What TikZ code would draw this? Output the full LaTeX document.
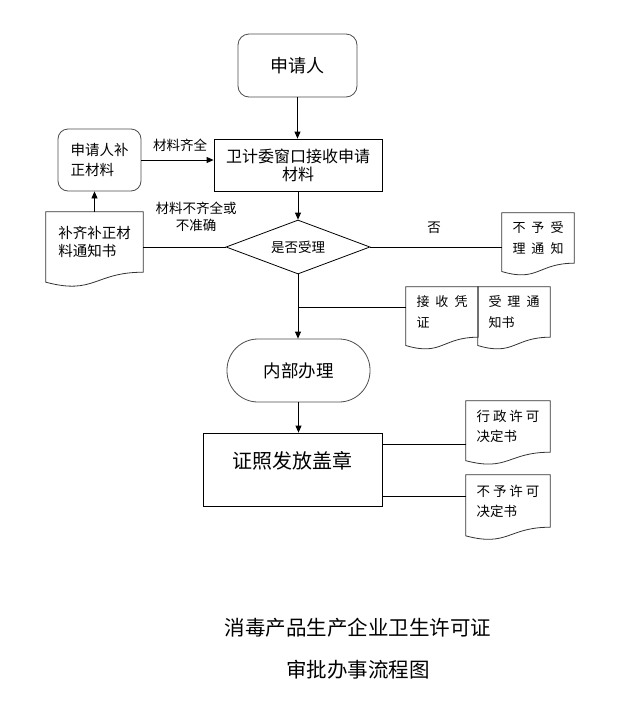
\documentclass[tikz,border=0pt]{standalone}
\usepackage{fontspec}
\setmainfont{Noto Sans CJK SC}
\usetikzlibrary{arrows.meta,shapes.geometric,calc}
\newcommand{\dgap}{\hspace{6pt}}
\newcommand{\sgap}{\hspace{3pt}}
% paper sheet with a wavy lower edge, drawn round a node
\newcommand{\docoutline}[1]{%
  \draw[docline] let \p1=(#1.north west), \p2=(#1.south east) in
    (\p1) -- (\x2,\y1) -- (\p2)
    .. controls ({0.5*\x1+0.5*\x2},\y2) and ({0.5*\x1+0.5*\x2},{\y1-1.381*(\y1-\y2)})
    .. (\x1,{\y1-1.165*(\y1-\y2)}) -- cycle;}
\begin{document}
\begin{tikzpicture}[x=1pt,y=-1pt,
    every node/.style={inner sep=0pt},
    flowline/.style={line width=0.8pt},
    arrowline/.style={flowline,-{Triangle[length=7pt,width=6pt]}},
    roundbox/.style={draw=black!70,line width=0.8pt,rounded corners=11pt,align=center},
    plainbox/.style={draw,line width=0.8pt,align=center},
    docnode/.style={align=left},
    docline/.style={draw=black!80,line width=0.8pt},
    note/.style={font=\fontsize{13.5}{17}\selectfont,align=center}]
  \useasboundingbox (0,0) rectangle (618,710);
  % main column
  \node[roundbox,minimum width=119pt,minimum height=63pt,font=\fontsize{18}{22}\selectfont] (applicant) at (297.5,65.5) {申请人};
  \node[plainbox,minimum width=168pt,minimum height=52pt,font=\fontsize{16}{18}\selectfont] (accept) at (298,165) {卫计委窗口接收申请\\材料};
  \node[diamond,aspect=2.67,draw,line width=0.8pt,minimum width=144pt,minimum height=54pt,font=\fontsize{13.5}{16}\selectfont] (decide) at (298,247) {是否受理};
  \node[roundbox,rounded corners=31pt,minimum width=143pt,minimum height=63pt,font=\fontsize{17.5}{20}\selectfont] (internal) at (298.5,370.5) {内部办理};
  \node[plainbox,minimum width=179pt,minimum height=73pt,font=\fontsize{20}{20}\selectfont] (issue) at (292.5,469.5) {证照发放盖章\\\mbox{}};
  % left loop
  \node[roundbox,align=left,rounded corners=10pt,minimum width=83pt,minimum height=62pt,font=\fontsize{14.5}{20}\selectfont] (supply) at (99.5,160) {申请人补\\正材料};
  \node[docnode,minimum width=97pt,minimum height=60pt,font=\fontsize{14.5}{18}\selectfont] (notice) at (94.5,242) {补齐补正材\\料通知书};
  % papers on the right
  \node[docnode,minimum width=72pt,minimum height=50pt,font=\fontsize{13}{21}\selectfont] (refuse) at (538,238) {不\dgap{}予\dgap{}受\\理\dgap{}通\dgap{}知};
  \node[docnode,minimum width=72pt,minimum height=50pt,font=\fontsize{13}{21}\selectfont] (receipt) at (442,312) {接\dgap{}收\dgap{}凭\\证};
  \node[docnode,minimum width=72pt,minimum height=50pt,font=\fontsize{13}{21}\selectfont] (acceptnote) at (514,312) {受\dgap{}理\dgap{}通\\知书};
  \node[docnode,minimum width=84pt,minimum height=51pt,font=\fontsize{13.5}{20}\selectfont] (permit) at (508,426.5) {行\sgap{}政\sgap{}许\sgap{}可\\决定书};
  \node[docnode,minimum width=84pt,minimum height=52pt,font=\fontsize{13.5}{20}\selectfont] (refusal) at (508,501) {不\sgap{}予\sgap{}许\sgap{}可\\决定书};
  \docoutline{notice}
  \docoutline{refuse}
  \docoutline{receipt}
  \docoutline{acceptnote}
  \docoutline{permit}
  \docoutline{refusal}
  % connectors
  \draw[arrowline] (applicant.south) -- (applicant.south |- accept.north);
  \draw[arrowline] (accept.south) -- (accept.south |- decide.north);
  \draw[arrowline] (decide.south) -- (decide.south |- internal.north);
  \draw[arrowline] (internal.south) -- (internal.south |- issue.north);
  \draw[arrowline] (supply.east) -- (supply.east -| accept.west);
  \draw[arrowline] (notice.north) -- (notice.north |- supply.south);
  \draw[flowline] (decide.west) -- (decide.west -| notice.east);
  \draw[flowline] (decide.east) -- (decide.east -| refuse.west);
  \coordinate (branch) at (298,307);
  \draw[flowline] (branch) -- (branch -| receipt.west);
  \coordinate (permitjoin) at (382,444);
  \coordinate (refusaljoin) at (382,496);
  \draw[flowline] (permitjoin) -- (permitjoin -| permit.west);
  \draw[flowline] (refusaljoin) -- (refusaljoin -| refusal.west);
  % labels
  \node[note] (fulllabel) at (180,145) {材料齐全};
  \node[note] (lacklabel) at (196,216.5) {材料不齐全或\\不准确};
  \node[note] (nolabel) at (434,228) {否};
  \node[align=center,font=\fontsize{20.5}{42}\selectfont] (title) at (358,649) {消毒产品生产企业卫生许可证\\审批办事流程图};
\end{tikzpicture}
\end{document}
